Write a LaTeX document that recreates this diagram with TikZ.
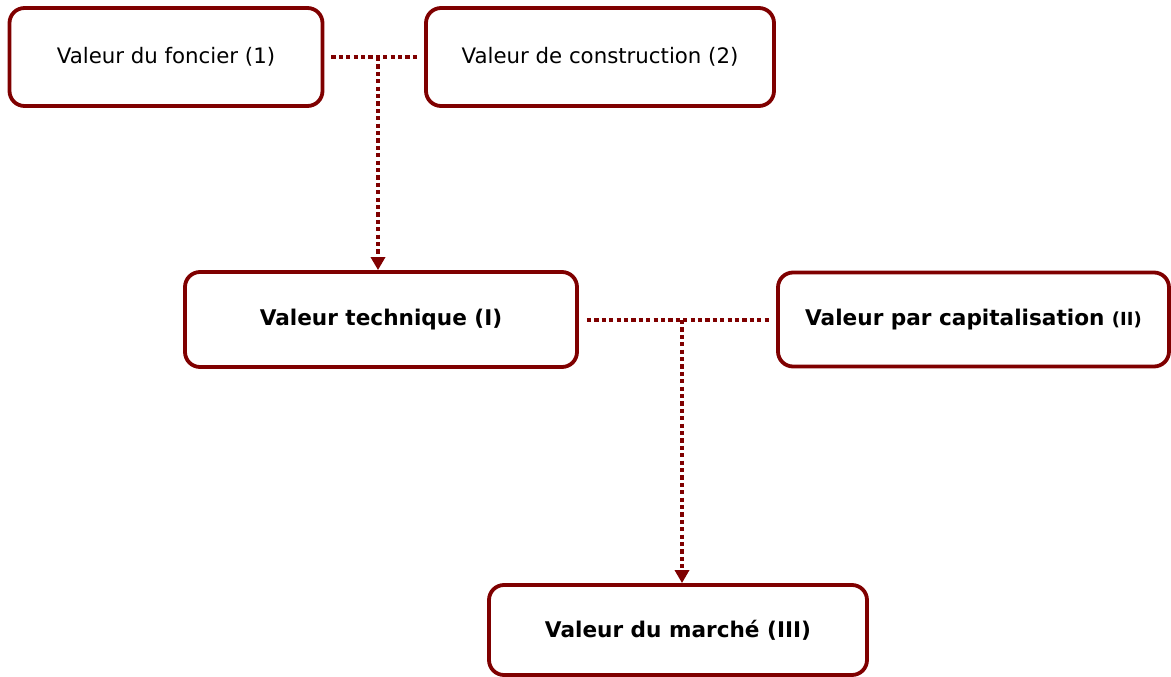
\documentclass[tikz,border=0pt]{standalone}
\usepackage{fontspec}
\setmainfont{DejaVu Sans}
\usetikzlibrary{arrows.meta}
\definecolor{boxred}{HTML}{7F0000}
\tikzset{
  box/.style={draw=boxred, line width=3.8pt, rounded corners=15pt, inner sep=0pt, align=center, text=black},
  dotline/.style={draw=boxred, line width=4.2pt, dash pattern=on 4.2pt off 3.2pt},
  arr/.style={-{Triangle[length=13pt,width=14pt]}},
  reg/.style={font=\fontsize{21.3}{25}\selectfont},
  bld/.style={font=\fontsize{21.6}{25}\selectfont\bfseries},
}
\begin{document}
\begin{tikzpicture}[x=1pt,y=-1pt]
\useasboundingbox (0,0) rectangle (1171,677);
\node[box,reg,minimum width=313pt,minimum height=98pt] (f) at (166,57) {Valeur du foncier (1)};
\node[box,reg,minimum width=348pt,minimum height=98pt] (c) at (600,57) {Valeur de construction (2)};
\node[box,bld,minimum width=392pt,minimum height=95pt] (t) at (381,319.5) {Valeur technique (I)};
\node[box,bld,minimum width=391pt,minimum height=94pt] (k) at (973.5,319.5) {Valeur par capitalisation {\fontsize{18}{20}\selectfont(II)}};
\node[box,bld,minimum width=378pt,minimum height=90pt] (m) at (678,630) {Valeur du marché (III)};
\coordinate (j1) at (378,57);
\coordinate (j2) at (682,320);
\draw[dotline] ([xshift=7pt]f.east) -- ([xshift=-4pt]c.west);
\draw[dotline,arr] (j1) -- (j1 |- t.north);
\draw[dotline] ([xshift=8pt]t.east |- j2) -- ([xshift=-5pt]k.west |- j2);
\draw[dotline,arr] (j2) -- (j2 |- m.north);
\end{tikzpicture}
\end{document}
